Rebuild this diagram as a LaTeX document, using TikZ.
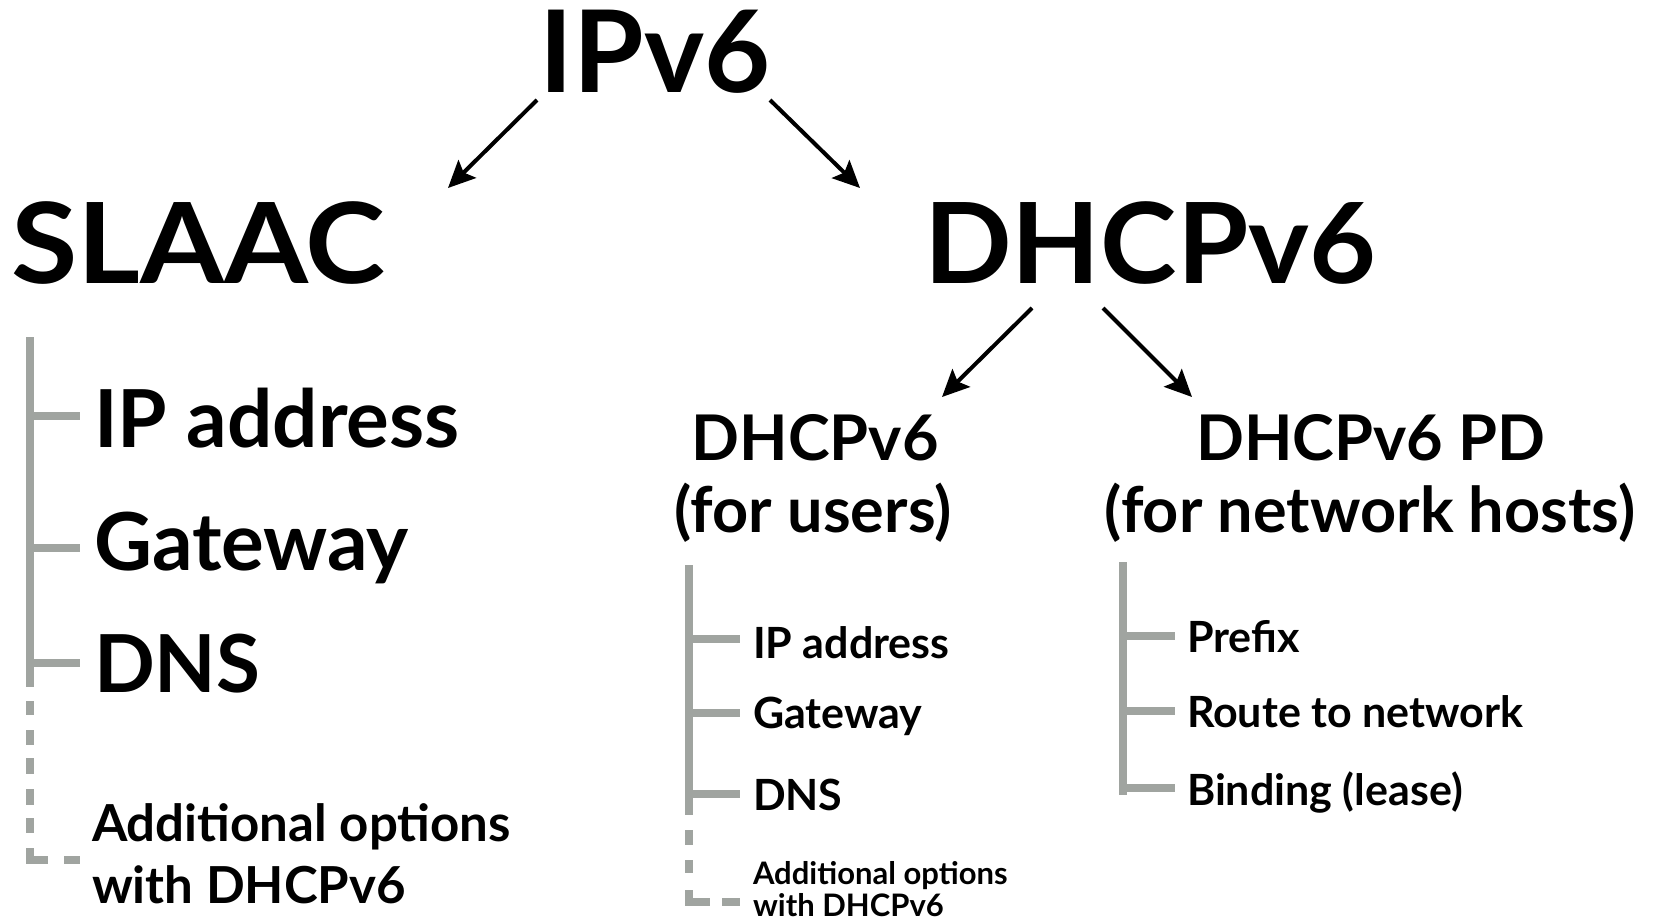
\documentclass[tikz,border=0pt]{standalone}
\usepackage{fontspec}
\setmainfont{Lato}
\usetikzlibrary{arrows.meta}
\definecolor{branchgray}{RGB}{160,164,160}
\tikzset{
  txt/.style={inner sep=0pt, outer sep=0pt, font=\bfseries},
  huge/.style={txt, font=\fontsize{112bp}{120bp}\selectfont\bfseries},
  big/.style={txt, font=\fontsize{80bp}{86bp}\selectfont\bfseries},
  mid/.style={txt, font=\fontsize{63bp}{70bp}\selectfont\bfseries},
  note/.style={txt, font=\fontsize{51bp}{56bp}\selectfont\bfseries},
  small/.style={txt, font=\fontsize{43bp}{46bp}\selectfont\bfseries},
  tiny/.style={txt, font=\fontsize{31bp}{34bp}\selectfont\bfseries},
  arr/.style={line width=4bp, -{Stealth[length=27bp,width=25bp,inset=5bp]}},
  branch/.style={draw=branchgray, line width=8bp},
}
\begin{document}
\begin{tikzpicture}[x=1bp, y=-1bp]
\useasboundingbox[fill=white] (0,0) rectangle (1653,922);

% headings
\node[huge, font=\fontsize{114bp}{120bp}\selectfont\bfseries, anchor=base] (ipv6) at (655,92) {IPv6};
\node[huge, anchor=base west] (slaac) at (11,283) {\scalebox{1.08}[1]{SLAAC}};
\node[huge, anchor=base west] (dhcp) at (924,283) {\scalebox{1.03}[1]{DHCPv6}};
\node[mid, anchor=base] (dusers) at (815,460) {DHCPv6};
\node[mid, anchor=base] (dusers2) at (813,532) {(for users)};
\node[mid, anchor=base] (dpd) at (1371,460) {DHCPv6 PD};
\node[mid, anchor=base] (dpd2) at (1370,532) {(for network hosts)};

% arrow end points
\coordinate (a1s) at (537,100); \coordinate (a1e) at (448,188);
\coordinate (a2s) at (770,100); \coordinate (a2e) at (860,188);
\coordinate (a3s) at (1032,308); \coordinate (a3e) at (942,397);
\coordinate (a4s) at (1103,308); \coordinate (a4e) at (1192,397);
\draw[arr] (a1s) -- (a1e);
\draw[arr] (a2s) -- (a2e);
\draw[arr] (a3s) -- (a3e);
\draw[arr] (a4s) -- (a4e);

% SLAAC branch
\node[big, anchor=base west] (s1) at (94,447) {IP address};
\node[big, anchor=base west] (s2) at (94,570) {Gateway};
\node[big, anchor=base west] (s3) at (94,692) {DNS};
\node[note, anchor=base west] (s4) at (92,841) {Additional options};
\node[note, anchor=base west] (s4b) at (92,903) {with DHCPv6};
\draw[branch] (30,337) -- (30,687);
\foreach \y in {416,548,663} \draw[branch] (30,\y) -- (80,\y);
\foreach \a/\b in {701/715,730/745,758/774,789/805,818/833} \draw[branch] (30,\a) -- (30,\b);
\draw[branch, miter limit=10] (30,848) -- (30,860) -- (48,860);
\draw[branch] (64,860) -- (80,860);

% DHCPv6 (for users) branch
\node[small, anchor=base west] (u1) at (753,658) {IP address};
\node[small, anchor=base west] (u2) at (753,728) {Gateway};
\node[small, anchor=base west] (u3) at (753,810) {DNS};
\node[tiny, anchor=base west] (u4) at (753,884) {Additional options};
\node[tiny, anchor=base west] (u4b) at (753,916) {with DHCPv6};
\draw[branch] (689,565) -- (689,815);
\foreach \y in {639,713,794} \draw[branch] (689,\y) -- (740,\y);
\foreach \a/\b in {830/845,860/873} \draw[branch] (689,\a) -- (689,\b);
\draw[branch, miter limit=10] (689,890) -- (689,902) -- (710,902);
\draw[branch] (722,902) -- (740,902);

% DHCPv6 PD branch
\node[small, anchor=base west] (p1) at (1187,652) {Prefix};
\node[small, anchor=base west] (p2) at (1187,727) {Route to network};
\node[small, anchor=base west] (p3) at (1187,805) {Binding (lease)};
\draw[branch] (1123,562) -- (1123,795);
\foreach \y in {636,711,788} \draw[branch] (1123,\y) -- (1175,\y);
\end{tikzpicture}
\end{document}
